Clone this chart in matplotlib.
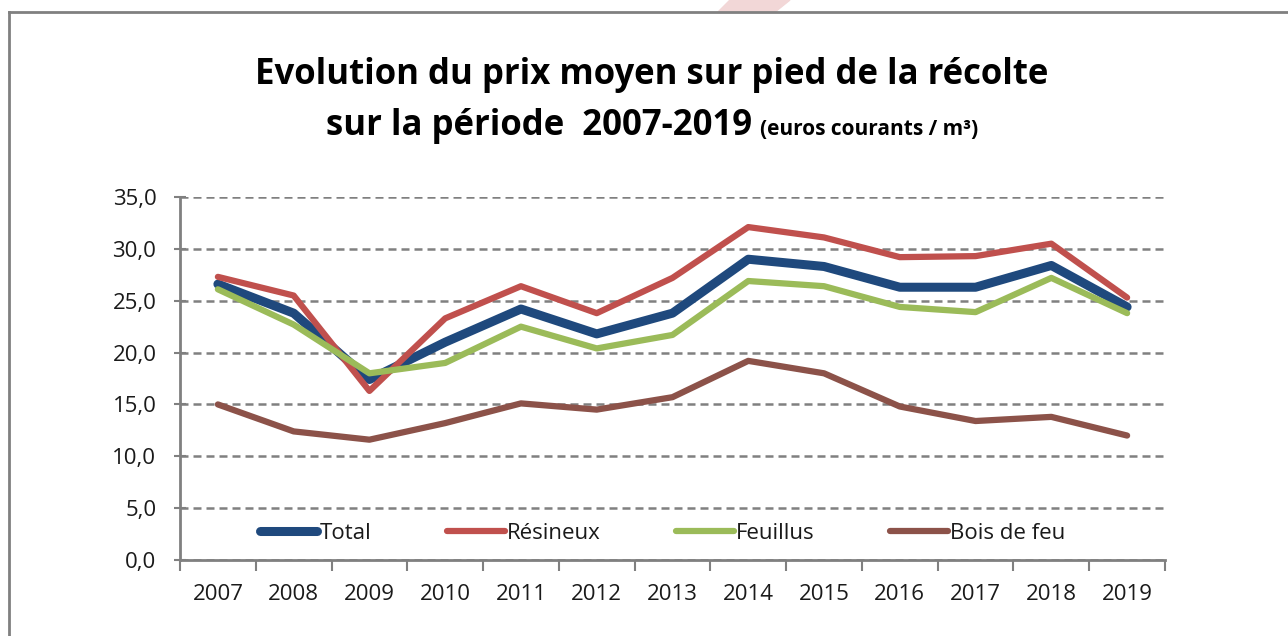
import numpy as np
import matplotlib
matplotlib.use('Agg')
import matplotlib.pyplot as plt
from matplotlib.lines import Line2D
from matplotlib.patches import Polygon

years = ['2007', '2008', '2009', '2010', '2011', '2012', '2013',
         '2014', '2015', '2016', '2017', '2018', '2019']
total = [26.6, 23.8, 17.4, 21.0, 24.2, 21.8, 23.8, 29.0, 28.3, 26.3, 26.3, 28.4, 24.4]
resineux = [27.3, 25.5, 16.3, 23.3, 26.4, 23.8, 27.2, 32.1, 31.1, 29.2, 29.3, 30.5, 25.3]
feuillus = [26.1, 22.7, 18.0, 19.0, 22.5, 20.4, 21.7, 26.9, 26.4, 24.4, 23.9, 27.2, 23.8]
bois_feu = [15.0, 12.4, 11.6, 13.2, 15.1, 14.5, 15.7, 19.2, 18.0, 14.8, 13.4, 13.8, 12.0]
series_names = ['Total', 'Résineux', 'Feuillus', 'Bois de feu']
yticks = [0, 5, 10, 15, 20, 25, 30, 35]

plt.rcParams['font.family'] = ['Open Sans', 'DejaVu Sans']

W, H = 1288, 636
fig = plt.figure(figsize=(W / 100, H / 100), dpi=100)

# faint pink stripe at the top and the grey chart border
fig.patches.append(Polygon([[730 / W, 1], [790 / W, 1], [775 / W, 1 - 12 / H], [718 / W, 1 - 12 / H]],
                           closed=True, transform=fig.transFigure, color='#f2d7d7', zorder=0))
fig.add_artist(Line2D([9 / W, 1], [1 - 12 / H, 1 - 12 / H], color='#808080', lw=2))
fig.add_artist(Line2D([9 / W, 9 / W], [0, 1 - 12 / H], color='#808080', lw=2))

ax = fig.add_axes([180 / W, 1 - 560 / H, (1165 - 180) / W, (560 - 197) / H])
x = np.arange(len(years))

colors = ['#1f497d', '#c0504d', '#9bbb59', '#8c5249']
widths = [6.5, 4.5, 4.5, 4.5]
for vals, name, c, lw in zip([total, resineux, feuillus, bois_feu], series_names, colors, widths):
    ax.plot(x, vals, color=c, lw=lw, label=name, solid_capstyle='round', solid_joinstyle='round', zorder=3)

ax.set_xlim(-0.5, len(years) - 0.5)
ax.set_ylim(0, 35)
ax.set_yticks(yticks)
ax.set_yticklabels([('%.1f' % v).replace('.', ',') for v in yticks])
ax.yaxis.grid(True, color='#808080', ls=(0, (3.2, 2)), lw=1.8)
ax.set_axisbelow(True)

ax.set_xticks(x)
ax.set_xticklabels(years)
ax.set_xticks(np.arange(-0.5, len(years)), minor=True)
ax.tick_params(axis='x', which='major', length=0, pad=17, labelsize=16, colors='#1a1a1a')
ax.tick_params(axis='x', which='minor', length=8, width=1.5, color='#808080', direction='out')
ax.tick_params(axis='y', length=8, width=1.5, color='#808080', direction='inout', labelsize=16,
               pad=13, labelcolor='#1a1a1a')

for s in ['top', 'right']:
    ax.spines[s].set_visible(False)
for s in ['left', 'bottom']:
    ax.spines[s].set_color('#808080')
    ax.spines[s].set_linewidth(2)

leg = ax.legend(loc='center', bbox_to_anchor=(0.49, 0.074), ncol=4, frameon=False,
                fontsize=16, handlelength=2.6, handletextpad=0.1, columnspacing=3.4)
for t in leg.get_texts():
    t.set_color('#1a1a1a')

fig.text(652 / W, 1 - 84 / H, 'Evolution du prix moyen sur pied de la récolte',
         ha='center', va='baseline', fontsize=25, fontweight='bold')
fig.text(752 / W, 1 - 135 / H, 'sur la période  2007-2019',
         ha='right', va='baseline', fontsize=25, fontweight='bold')
fig.text(760 / W, 1 - 135 / H, '(euros courants / m³)',
         ha='left', va='baseline', fontsize=15, fontweight='bold')

fig.savefig('out.png', dpi=100)
